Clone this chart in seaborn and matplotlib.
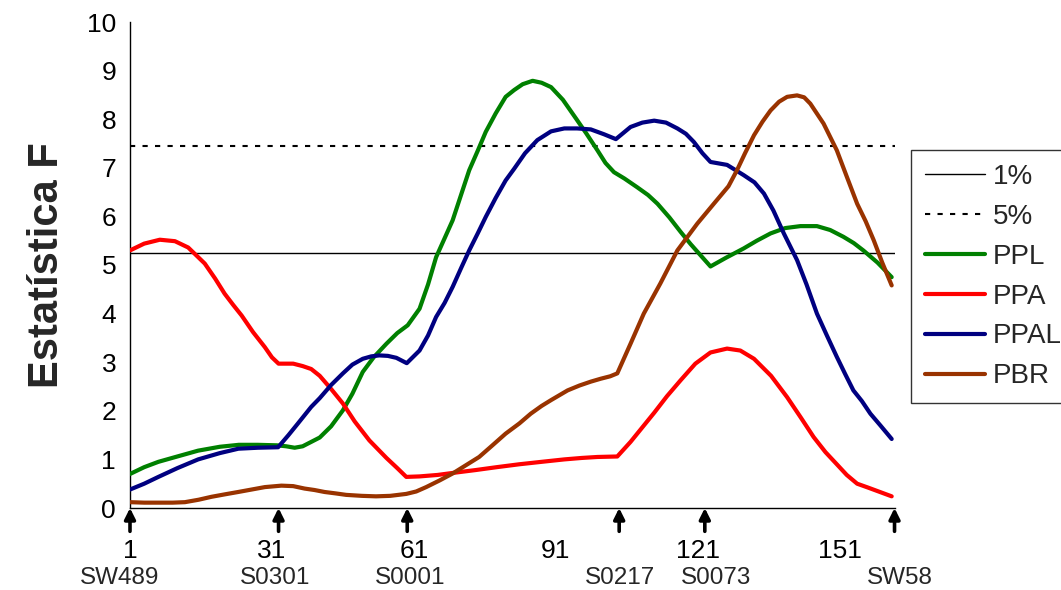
import matplotlib
matplotlib.use("Agg")
import matplotlib.pyplot as plt
import matplotlib.transforms as mtransforms
from matplotlib.lines import Line2D
import numpy as np
import pandas as pd
import seaborn as sns

# Marker positions along the chromosome and their F statistics
ppl_pos = [1, 4, 7, 11, 15.4, 20, 24, 28, 32, 34, 35.8, 37.5, 39.3, 41.1, 43.5, 46, 48, 50.2, 52.5, 55.2,
           57.5, 59.7, 62.2, 64, 65.7, 67.5, 69.2, 71, 72.7, 74.5, 76.2, 78.3, 80.4, 82.2, 84, 86.1, 88,
           90, 92.5, 95.3, 97.5, 99.8, 101.5, 103.3, 105.5, 108.2, 110.5, 112.5, 115, 117.4, 119.5, 121.6,
           123.7, 127, 130.7, 133.5, 136.4, 139.5, 142.7, 146.2, 149, 151.8, 154, 156, 159, 162]
ppl_val = [0.70, 0.84, 0.95, 1.06, 1.18, 1.26, 1.30, 1.30, 1.29, 1.27, 1.24, 1.27, 1.36, 1.45, 1.68, 2.01, 2.35, 2.80, 3.10, 3.38,
           3.60, 3.76, 4.10, 4.60, 5.16, 5.55, 5.92, 6.45, 6.95, 7.35, 7.74, 8.12, 8.46, 8.60, 8.72, 8.79, 8.75,
           8.66, 8.40, 8.01, 7.70, 7.36, 7.10, 6.91, 6.78, 6.60, 6.44, 6.26, 5.98, 5.68, 5.43, 5.20,
           4.97, 5.15, 5.34, 5.50, 5.65, 5.76, 5.80, 5.80, 5.72, 5.58, 5.45, 5.30, 5.05, 4.75]

ppa_pos = [1, 4, 7.3, 10.5, 13.3, 15, 16.8, 19, 21, 22.8, 24.6, 27, 29.5, 31, 32.4, 35.5, 37.5, 39.3, 41.1,
           43.5, 46, 48.5, 51.6, 53.5, 55.2, 57.5, 59.4, 62.2, 66, 69.1, 74, 78.5, 83.3, 88, 92.8, 96.5,
           99.8, 104, 106.8, 109.3, 111.8, 114.5, 117.4, 120.5, 123.7, 127.2, 130, 132.9, 136.5, 139.9,
           142.8, 145.5, 148, 150.4, 152.5, 154.7, 157, 159.5, 162]
ppa_val = [5.30, 5.44, 5.52, 5.49, 5.36, 5.20, 5.03, 4.72, 4.41, 4.18, 3.96, 3.62, 3.31, 3.10, 2.97, 2.97, 2.92, 2.86, 2.72,
           2.45, 2.15, 1.78, 1.39, 1.20, 1.03, 0.82, 0.64, 0.65, 0.68, 0.72, 0.78, 0.84, 0.90, 0.95, 1.00, 1.03,
           1.05, 1.06, 1.36, 1.66, 1.96, 2.30, 2.63, 2.97, 3.20, 3.28, 3.24, 3.07, 2.72, 2.28,
           1.86, 1.46, 1.15, 0.90, 0.68, 0.50, 0.42, 0.33, 0.24]

ppal_pos = [1, 4, 7, 11, 15.4, 20, 23.9, 28, 32.3, 34.5, 36.5, 39.3, 41.1, 43.5, 46, 48, 50.2, 52, 53.7,
            55.5, 57.3, 59.5, 62.2, 64, 65.7, 67.5, 69.2, 71, 72.7, 74.5, 76.2, 78.3, 80.4, 82.2, 84.5,
            87.1, 90, 92.8, 95.5, 98.4, 101.2, 103.7, 106.8, 109.3, 111.8, 114.3, 116.7, 118.5, 120.2,
            122, 123.7, 127.2, 130.7, 133, 135, 137, 139.2, 142, 144, 146.2, 148.3, 150.4, 152.2, 153.9,
            155.7, 157.5, 159.6, 162]
ppal_val = [0.38, 0.50, 0.64, 0.82, 1.00, 1.13, 1.22, 1.24, 1.25, 1.50, 1.74, 2.08, 2.26, 2.53, 2.77, 2.95, 3.07, 3.12, 3.14,
            3.13, 3.09, 2.98, 3.24, 3.55, 3.93, 4.22, 4.55, 4.94, 5.30, 5.65, 5.99, 6.38, 6.74, 6.98, 7.30,
            7.57, 7.75, 7.81, 7.81, 7.79, 7.69, 7.59, 7.84, 7.93, 7.97, 7.93, 7.81, 7.70, 7.53,
            7.30, 7.12, 7.06, 6.85, 6.70, 6.47, 6.12, 5.65, 5.10, 4.60, 4.00, 3.55, 3.11, 2.75, 2.42,
            2.20, 1.94, 1.70, 1.42]

pbr_pos = [1, 4, 7, 10, 12.6, 15.5, 18.2, 21, 23.9, 26.7, 29.5, 33, 35.5, 37.9, 40, 42.1, 44.5, 46.7, 50,
           53, 56, 59.4, 61.5, 63.6, 66.5, 69.2, 72, 74.8, 77.5, 80.4, 83.3, 85.7, 88, 90, 93.5, 96,
           98.4, 100.5, 102.5, 104, 106.8, 109.6, 113.1, 116.7, 120.9, 124.4, 127.5, 129.3, 131, 132.9,
           134.7, 136.4, 138.2, 139.9, 142, 143.5, 144.8, 147.6, 150.4, 152.5, 154.7, 156.5, 158.2,
           160, 162]
pbr_val = [0.12, 0.11, 0.11, 0.11, 0.12, 0.17, 0.23, 0.28, 0.33, 0.38, 0.43, 0.46, 0.45, 0.40, 0.37, 0.33, 0.30, 0.27, 0.25,
           0.24, 0.25, 0.29, 0.34, 0.43, 0.57, 0.71, 0.88, 1.05, 1.28, 1.53, 1.74, 1.94, 2.10, 2.22, 2.42, 2.52,
           2.60, 2.66, 2.71, 2.77, 3.38, 4.00, 4.62, 5.30, 5.85, 6.26, 6.62, 6.95, 7.30, 7.67,
           7.95, 8.18, 8.36, 8.46, 8.49, 8.45, 8.32, 7.91, 7.36, 6.82, 6.26, 5.90, 5.51, 5.05, 4.58]

# Significance thresholds (1% and 5%)
thr_1 = 5.25
thr_5 = 7.45

# Axis ticks and mapped markers
x_ticks = [1, 31, 61, 91, 121, 151]
y_ticks = list(range(0, 11))
marker_names = ["SW489", "S0301", "S0001", "S0217", "S0073", "SW58"]
marker_pos = [1, 32.4, 59.6, 104.4, 122.5, 162.6]
marker_label_pos = [-1.1, 31.6, 60.3, 104.6, 124.8, 163.7]

series_names = ["PPL", "PPA", "PPAL", "PBR"]
series_colors = ["#008000", "#FF0000", "#000080", "#993300"]

frames = []
for name, pos, val in zip(series_names,
                          [ppl_pos, ppa_pos, ppal_pos, pbr_pos],
                          [ppl_val, ppa_val, ppal_val, pbr_val]):
    frames.append(pd.DataFrame({"pos": pos, "F": val, "serie": name}))
df = pd.concat(frames, ignore_index=True)

sns.set_style("white")
plt.rcParams["font.family"] = ["Liberation Sans", "DejaVu Sans"]

fig = plt.figure(figsize=(10.61, 5.90), dpi=100)
ax = fig.add_axes([130 / 1061, 1 - 508 / 590, (895 - 130) / 1061, (508 - 22) / 590])

ax.axhline(thr_1, color="black", lw=1.0, zorder=1)
ax.axhline(thr_5, color="black", lw=1.5, ls=(0, (2.5, 3.5)), zorder=1)

sns.lineplot(data=df, x="pos", y="F", hue="serie", hue_order=series_names,
             palette=series_colors, estimator=None, sort=True, lw=3.0,
             legend=False, ax=ax, zorder=3)

ax.set_xlim(1, 162.7)
ax.set_ylim(0, 10)
ax.set_xticks(x_ticks)
ax.set_xticklabels([str(t) for t in x_ticks])
ax.set_yticks(y_ticks)
ax.set_yticklabels([str(t) for t in y_ticks])
ax.tick_params(axis="both", direction="out", length=5, width=1, colors="black",
               labelsize=19)
ax.tick_params(axis="x", pad=17)
ax.tick_params(axis="y", pad=5)
for side in ["top", "right"]:
    ax.spines[side].set_visible(False)
for side in ["left", "bottom"]:
    ax.spines[side].set_color("black")
    ax.spines[side].set_linewidth(1.0)

ax.set_xlabel("")
ax.set_ylabel("Estatística F", fontsize=30, fontweight="bold", labelpad=14)

# Arrows pointing to the mapped markers, with their names below the axis
trans = mtransforms.blended_transform_factory(ax.transData, ax.transAxes)
for p in marker_pos:
    ax.annotate("", xy=(p, 0.0), xycoords=trans, xytext=(p, -0.048), textcoords=trans,
                arrowprops=dict(arrowstyle="-|>", color="black", lw=2.6,
                                mutation_scale=16, shrinkA=0, shrinkB=0),
                annotation_clip=False)
for name, p in zip(marker_names, marker_label_pos):
    ax.text(p, -0.145, name, transform=trans, ha="center", va="center",
            fontsize=17.5, clip_on=False)

handles = [Line2D([], [], color="black", lw=1.0),
           Line2D([], [], color="black", lw=1.5, ls=(0, (2.5, 3.5)))]
handles += [Line2D([], [], color=c, lw=3.0) for c in series_colors]
labels = ["1%", "5%"] + series_names
leg = fig.legend(handles, labels, loc="upper left",
                 bbox_to_anchor=(911 / 1061, 1 - 150 / 590),
                 fontsize=20, frameon=True, fancybox=False, edgecolor="black",
                 handlelength=2.15, handletextpad=0.3, labelspacing=0.5,
                 borderpad=0.5, borderaxespad=0)
leg.get_frame().set_linewidth(1.0)

fig.savefig("out.png", dpi=100)
